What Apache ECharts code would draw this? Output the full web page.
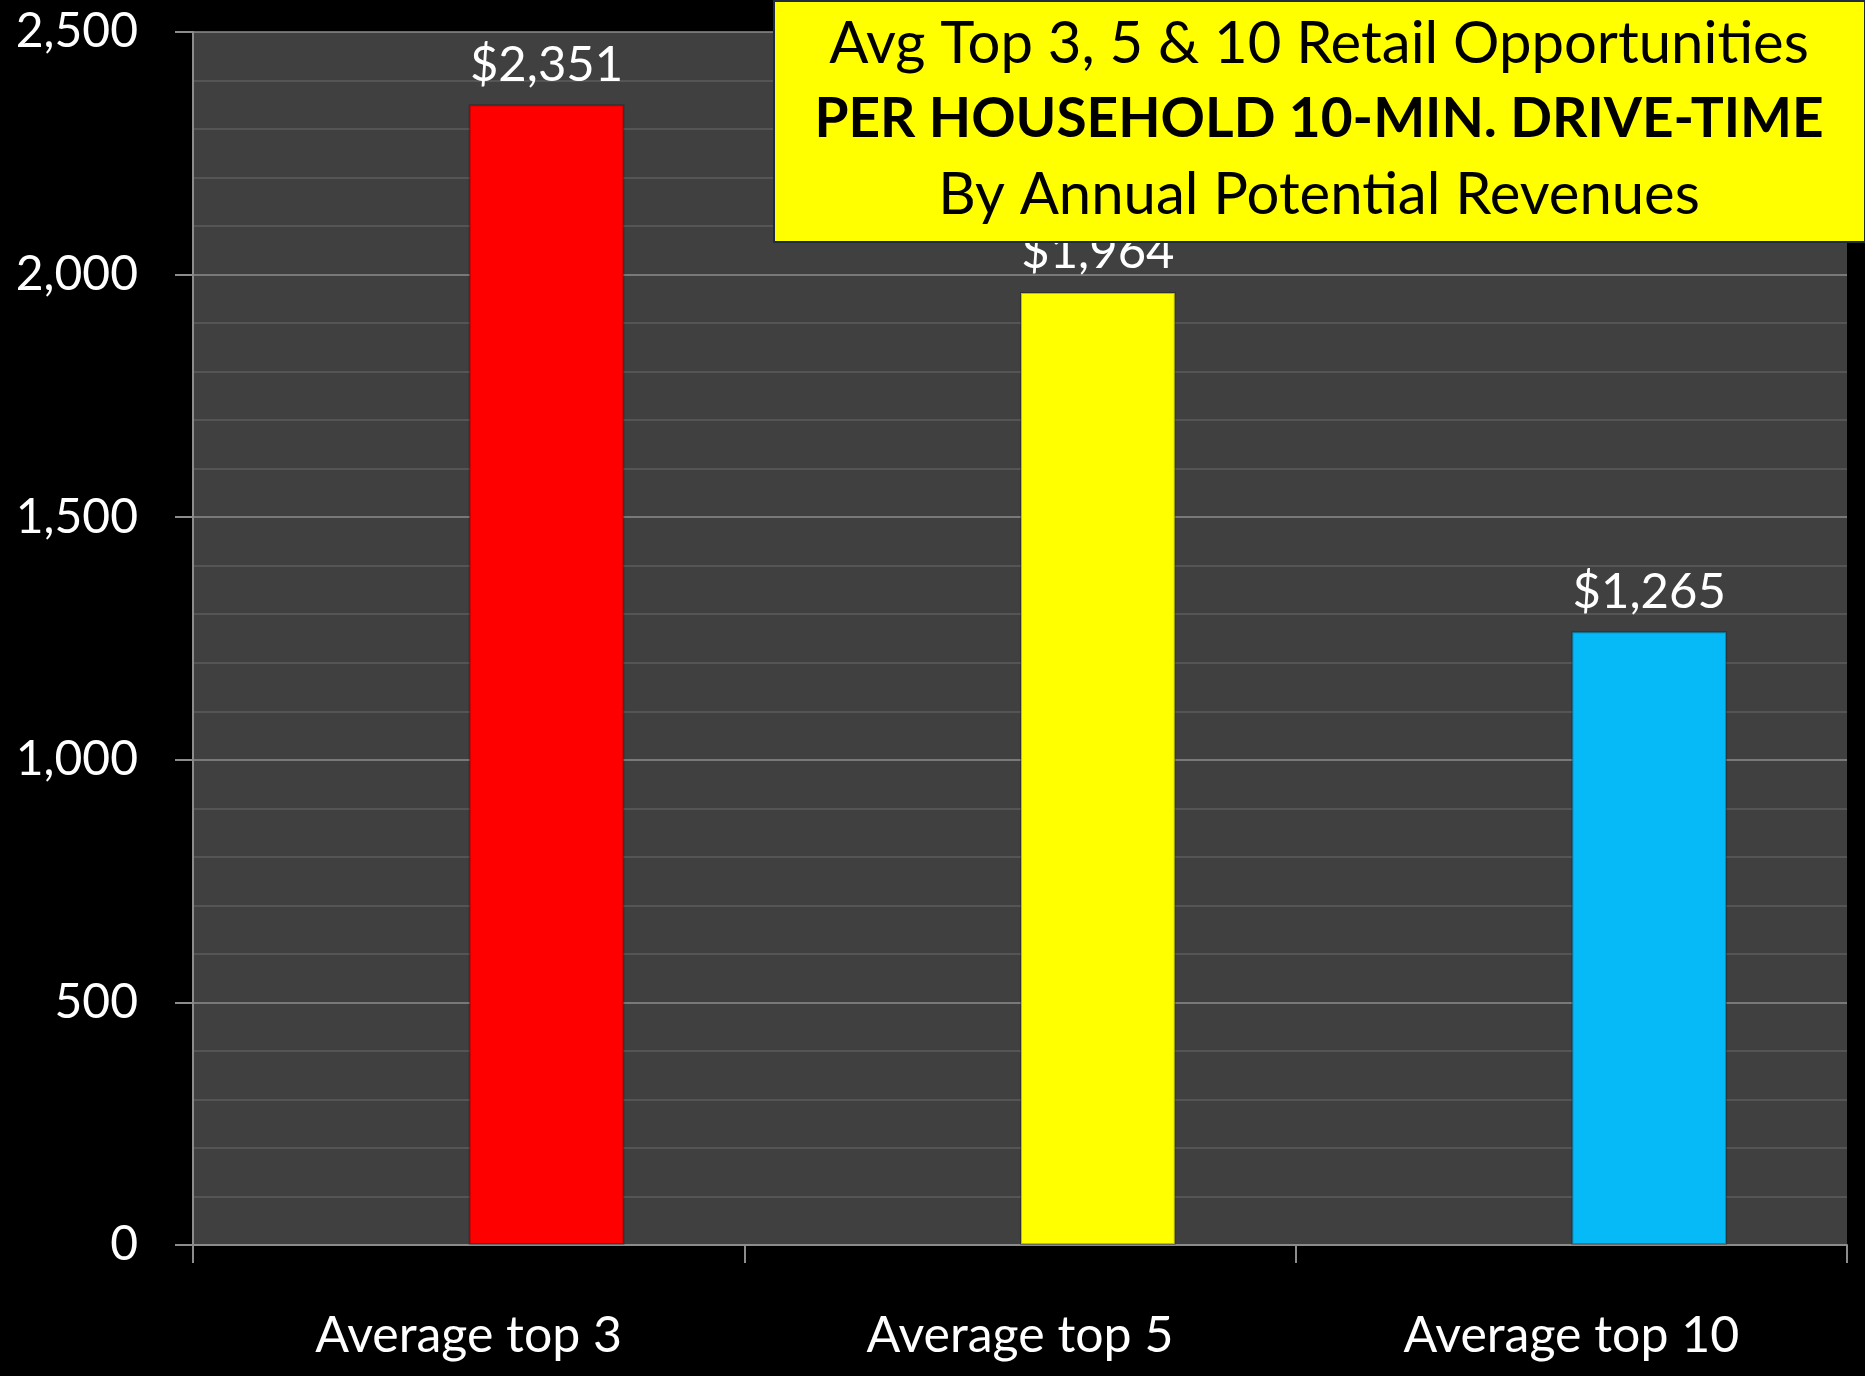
<!DOCTYPE html>
<html>
<head>
<meta charset="utf-8">
<title>Retail Opportunities</title>
<script src="https://cdn.jsdelivr.net/npm/echarts@6/dist/echarts.min.js"></script>
<style>
  * { margin: 0; padding: 0 }
  html, body { width: 100%; height: 100%; background: #000; }
  #main { width: 1865px; height: 1376px; }
</style>
</head>
<body>
<div id="main"></div>
<script>
// data
var categories = ['Average top 3', 'Average top 5', 'Average top 10'];
var values = [2351, 1964, 1265];
var barColors = ['#ff0000', '#ffff00', '#06b9f7'];
var titleLines = [
  'Avg Top 3, 5 & 10 Retail Opportunities',
  'PER HOUSEHOLD 10-MIN. DRIVE-TIME',
  'By Annual Potential Revenues'
];

var font = 'Lato';
var chart = echarts.init(document.getElementById('main'));

// excel chart had an empty first series, so the bars sit right of centre
var emptySeries = categories.map(function () { return null; });

chart.setOption({
  backgroundColor: '#000',
  textStyle: { fontFamily: font },
  grid: {
    left: 193, right: 18, top: 32, bottom: 131,
    show: true, backgroundColor: '#404040', borderWidth: 0
  },
  xAxis: {
    type: 'category',
    data: categories,
    axisLine: { lineStyle: { color: '#8c8c8c', width: 2 } },
    axisTick: { show: true, length: 18, lineStyle: { color: '#8c8c8c', width: 2 } },
    axisLabel: { color: '#fff', fontSize: 50, margin: 66, fontFamily: font }
  },
  yAxis: {
    type: 'value',
    min: 0, max: 2500, interval: 500,
    axisLine: { show: true, lineStyle: { color: '#8c8c8c', width: 2 } },
    axisTick: { show: true, length: 18, lineStyle: { color: '#8c8c8c', width: 2 } },
    axisLabel: {
      color: '#fff', fontSize: 48, margin: 55, fontFamily: font,
      formatter: function (v) { return v.toLocaleString('en-US'); }
    },
    splitLine: { show: true, lineStyle: { color: '#8c8c8c', width: 1.5 } },
    minorTick: { show: false, splitNumber: 5 },
    minorSplitLine: { show: true, lineStyle: { color: '#5c5c5c', width: 1.5 } }
  },
  series: [
    {
      type: 'bar',
      data: emptySeries,
      barGap: '0%',
      barCategoryGap: '43.5%'
    },
    {
      type: 'bar',
      data: values.map(function (v, i) {
        return {
          value: v,
          itemStyle: {
            color: barColors[i],
            borderColor: 'rgba(0,0,0,0.25)',
            borderWidth: 2
          }
        };
      }),
      label: {
        show: true,
        position: 'top',
        distance: 15,
        color: '#fff',
        fontSize: 49,
        fontFamily: font,
        formatter: function (p) { return '$' + p.value.toLocaleString('en-US'); }
      }
    }
  ],
  graphic: [
    {
      type: 'group',
      left: 773,
      top: 0,
      zlevel: 2,
      children: [
        {
          type: 'rect',
          z: 100,
          shape: { x: 0, y: 0, width: 1091, height: 241 },
          style: { fill: '#ffff00', stroke: '#1f2a44', lineWidth: 2 }
        },
        {
          type: 'text',
          z: 101,
          x: 545, y: 43,
          style: {
            text: titleLines[0], fill: '#000', font: '58px Lato',
            textAlign: 'center', textVerticalAlign: 'middle'
          }
        },
        {
          type: 'text',
          z: 101,
          x: 545, y: 118,
          style: {
            text: titleLines[1], fill: '#000', font: 'bold 55px Lato',
            textAlign: 'center', textVerticalAlign: 'middle'
          }
        },
        {
          type: 'text',
          z: 101,
          x: 545, y: 194,
          style: {
            text: titleLines[2], fill: '#000', font: '58px Lato',
            textAlign: 'center', textVerticalAlign: 'middle'
          }
        }
      ]
    }
  ]
});
</script>
</body>
</html>
